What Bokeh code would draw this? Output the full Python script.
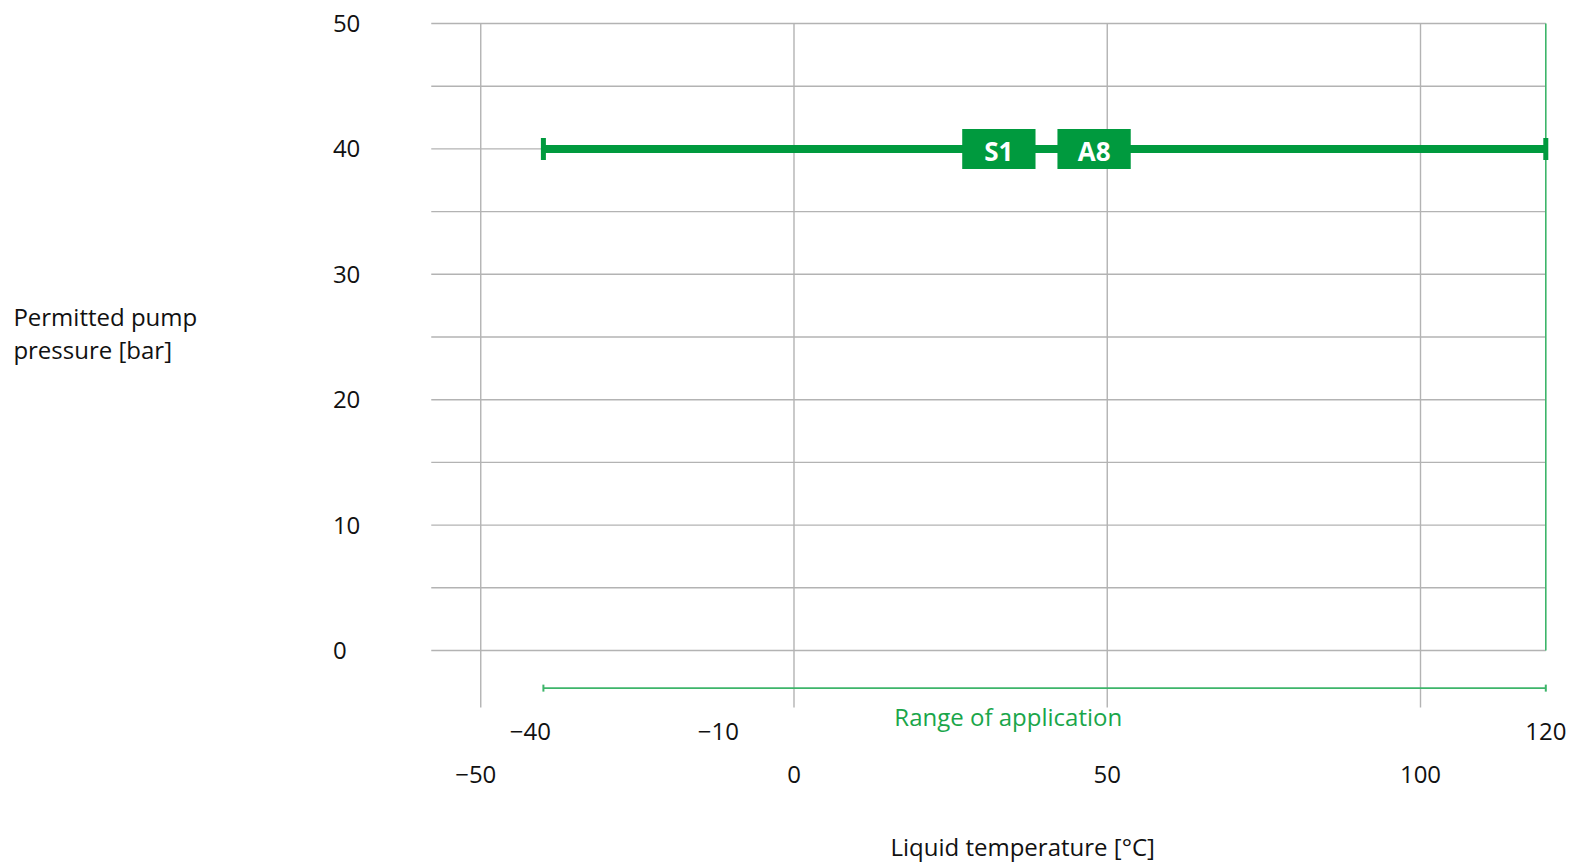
from bokeh.plotting import figure
from bokeh.models import Range1d
from bokeh.core.properties import value
from bokeh.embed import file_html
from bokeh.resources import INLINE

# ---- data ----
x_ticks = [-50, 0, 50, 100]
x_tick_labels = ["\u221250", "0", "50", "100"]
range_ticks = [-40, -10, 120]
range_tick_labels = ["\u221240", "\u221210", "120"]
y_ticks = [0, 10, 20, 30, 40, 50]
y_tick_labels = ["0", "10", "20", "30", "40", "50"]
y_grid = [0, 5, 10, 15, 20, 25, 30, 35, 40, 45, 50]
t_min, t_max = -40, 120          # range of application [°C]
pressure = 40                    # permitted pump pressure [bar]
badges = ["S1", "A8"]
badge_x = [32.7, 47.9]
badge_w = 11.7
x_left = -57.9
y_bottom = -4.55
range_y = -3
y_title_lines = ["Permitted pump", "pressure [bar]"]
y_title_y = [26.6, 24.0]

FONT = "Open Sans"
GREEN = "#009a3e"
LGREEN = "#3db56a"
GRID = "#b3b3b3"
TXT = "#111111"

W, H = 1570, 862
XS, YS = 6.265, 12.54
x0 = -793.5 / XS
y1 = 650 / YS
p = figure(width=W, height=H, output_backend="svg", toolbar_location=None,
           x_range=Range1d(x0, x0 + W / XS), y_range=Range1d(y1 - H / YS, y1),
           min_border=0, min_border_left=0, min_border_right=0,
           min_border_top=0, min_border_bottom=0)
p.axis.visible = False
p.grid.visible = False
p.outline_line_color = None

# horizontal grid
p.segment(x0=[x_left] * len(y_grid), x1=[t_max] * len(y_grid), y0=y_grid, y1=y_grid,
          line_color=GRID, line_width=1.4)
# vertical grid
p.segment(x0=x_ticks, x1=x_ticks, y0=[y_bottom] * len(x_ticks), y1=[50] * len(x_ticks),
          line_color=GRID, line_width=1.4)
# right green border
p.segment(x0=[t_max], x1=[t_max], y0=[0], y1=[50], line_color=LGREEN, line_width=1.6)

# main pressure line with end caps
p.segment(x0=[t_min], x1=[t_max], y0=[pressure], y1=[pressure], line_color=GREEN, line_width=8)
p.rect(x=[t_min, t_max], y=[pressure, pressure], width=5, height=22,
       width_units="screen", height_units="screen", fill_color=GREEN, line_color=None)

# badges
p.rect(x=badge_x, y=[pressure] * 2, width=badge_w, height=40, height_units="screen",
       fill_color=GREEN, line_color=None)
p.text(x=badge_x, y=[pressure] * 2, text=badges, text_align="center", text_baseline="middle",
       text_color="white", text_font=value(FONT), text_font_style="bold",
       text_font_size="26px", y_offset=2)

# range of application
p.segment(x0=[t_min], x1=[t_max], y0=[range_y], y1=[range_y], line_color=LGREEN, line_width=1.6)
p.rect(x=[t_min, t_max], y=[range_y, range_y], width=2, height=7,
       width_units="screen", height_units="screen", fill_color=LGREEN, line_color=None)
p.text(x=[34.2], y=[range_y], text=["Range of application"], text_align="center",
       text_baseline="middle", text_color="#1aa64a", text_font=value(FONT),
       text_font_size="24px", y_offset=28)

# range tick labels
p.text(x=range_ticks, y=[range_y] * 3, text=range_tick_labels, text_align="center",
       text_baseline="middle", text_color=TXT, text_font=value(FONT),
       text_font_size="24px", y_offset=43, x_offset=[-13, -13, 0])

# x tick labels
p.text(x=x_ticks, y=[range_y] * 4, text=x_tick_labels, text_align="center",
       text_baseline="middle", text_color=TXT, text_font=value(FONT),
       text_font_size="24px", y_offset=86, x_offset=[-5, 0, 0, 0])

# y tick labels (left aligned)
p.text(x=[-73.6] * len(y_ticks), y=y_ticks, text=y_tick_labels, text_align="left",
       text_baseline="middle", text_color=TXT, text_font=value(FONT),
       text_font_size="24px")

# axis titles
p.text(x=[-124.6] * 2, y=y_title_y, text=y_title_lines, text_align="left",
       text_baseline="middle", text_color=TXT, text_font=value(FONT),
       text_font_size="24px")
p.text(x=[36.5], y=[-15.6], text=["Liquid temperature [\u00b0C]"], text_align="center",
       text_baseline="middle", text_color=TXT, text_font=value(FONT),
       text_font_size="24px")

open("out.html", "w").write(file_html(p, INLINE))
